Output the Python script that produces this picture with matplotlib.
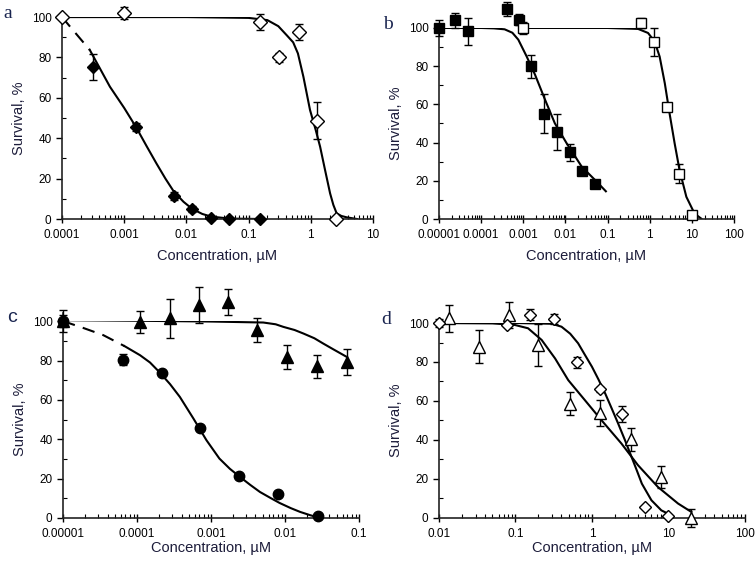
import matplotlib
matplotlib.use("Agg")
import matplotlib.pyplot as plt
import numpy as np
from matplotlib.ticker import FixedLocator, NullFormatter

plt.rcParams["font.family"] = ["Liberation Sans", "DejaVu Sans"]

# ---- panel a ----
a_open_x = [0.0001, 0.001, 0.15, 0.31, 0.65, 1.27, 2.54]
a_open_y = [100, 102, 97.5, 80, 92.6, 48.7, 0]
a_open_err = [0, 3, 4, 2, 4, 9, 0]
a_fill_x = [0.000315, 0.00155, 0.0063, 0.0124, 0.0248, 0.049, 0.155]
a_fill_y = [75.4, 45.5, 11.4, 5, 0.5, 0, 0]
a_fill_err = [6.5, 2, 2, 1.5, 1, 1, 1]
a_open_fit_x = [0.0001, 0.01, 0.1, 0.2, 0.3, 0.41, 0.52, 0.62, 0.76, 0.97, 1.2, 1.41, 1.7, 2.04, 2.3, 2.6, 3.1, 3.8, 5.5]
a_open_fit_y = [100, 100, 99.6, 98.5, 95.5, 91, 87.5, 82, 70.4, 54, 44, 35.8, 24, 12.7, 7, 2.8, 1.5, 0.8, 0]
a_dash_x = [0.0001, 0.00028]
a_dash_y = [100, 83.7]
a_fill_fit_x = [0.00028, 0.0004, 0.00059, 0.001, 0.00155, 0.0023, 0.0033, 0.0046, 0.0063, 0.009, 0.0124, 0.018, 0.025, 0.049, 0.155]
a_fill_fit_y = [83.7, 75, 65.5, 55, 45.5, 36, 27.5, 20, 13.5, 8.5, 5, 2.5, 1.2, 0.2, 0]

# ---- panel b ----
b_fill_x = [1e-5, 2.4e-5, 5e-5, 0.0004, 0.0008, 0.0015, 0.0031, 0.0062, 0.0129, 0.025, 0.051]
b_fill_y = [100, 104, 98.2, 110, 104.4, 79.9, 55.2, 45.7, 34.9, 25, 18.2]
b_fill_err = [4, 4, 7, 3.5, 3, 6, 10, 9.5, 4.5, 0, 0]
b_open_x = [0.001, 0.62, 1.25, 2.5, 5.0, 10]
b_open_y = [100, 102.6, 92.6, 58.8, 23.6, 2.3]
b_open_err = [3, 2.5, 7.5, 0, 5, 0]
b_fill_fit_x = [1e-5, 0.0001, 0.0002, 0.00036, 0.00055, 0.00076, 0.0012, 0.0019, 0.0033, 0.0056, 0.0107, 0.0245, 0.051, 0.091]
b_fill_fit_y = [100, 100, 99.8, 99.3, 97.5, 93.9, 85.1, 75.5, 62.3, 50.1, 39.6, 27.3, 20.3, 14.5]
b_open_fit_x = [0.001, 0.1, 0.53, 0.91, 1.3, 1.72, 2.28, 2.97, 3.9, 5.1, 7.4, 11.6, 16.7]
b_open_fit_y = [100, 100, 99.5, 97.4, 93, 85, 71, 55, 39.6, 25.6, 11.6, 2.8, 0.2]

# ---- panel c ----
c_circ_x = [1e-5, 6.5e-5, 0.00022, 0.00072, 0.0024, 0.0080, 0.028]
c_circ_y = [100, 80.5, 73.7, 45.8, 21.2, 12.0, 0.8]
c_circ_err = [3, 3, 0, 0, 0, 0, 0]
c_tri_x = [1e-5, 0.00011, 0.00028, 0.00069, 0.0017, 0.0042, 0.0107, 0.027, 0.068]
c_tri_y = [100, 99.7, 101.4, 108.1, 109.8, 95.4, 81.9, 77, 79.3]
c_tri_err = [5.5, 5.5, 10, 9, 6.5, 6, 6, 6, 6.5]
c_tri_fit_x = [1e-5, 0.0001, 0.001, 0.0051, 0.0075, 0.0095, 0.0135, 0.0178, 0.025, 0.033, 0.045, 0.068]
c_tri_fit_y = [100.5, 100.2, 99.8, 99.3, 98.4, 97.1, 95.5, 93.7, 91.3, 88.6, 85.7, 81.9]
c_dash_x = [1e-5, 1.8e-5, 3.5e-5, 6.8e-5]
c_dash_y = [100, 96.8, 92.9, 87.3]
c_circ_fit_x = [6.8e-5, 0.00011, 0.00015, 0.0002, 0.00028, 0.00038, 0.00058, 0.00087, 0.0013, 0.0018, 0.0024, 0.0034, 0.0046, 0.0065, 0.0085, 0.012, 0.016, 0.022, 0.030]
c_circ_fit_y = [87.3, 82.7, 79, 74.2, 68, 61.5, 50.5, 39.5, 30.2, 25, 21.2, 16.8, 13.2, 10, 7.6, 5, 3.1, 1.4, 0]

# ---- panel d ----
d_dia_x = [0.01, 0.078, 0.157, 0.316, 0.63, 1.26, 2.51, 5.0, 10]
d_dia_y = [100, 99.1, 104.3, 102, 79.8, 65.9, 53.3, 5.8, 1]
d_dia_err = [2, 0, 3, 2.5, 3, 1.5, 4, 0, 0]
d_tri_x = [0.0134, 0.033, 0.082, 0.20, 0.52, 1.29, 3.2, 8.0, 20]
d_tri_y = [102.4, 87.8, 104.1, 88.7, 58.7, 53.9, 40.4, 21.1, 0]
d_tri_err = [7, 8.5, 6.5, 11, 6, 6.5, 6, 5.5, 4.5]
d_dia_fit_x = [0.01, 0.1, 0.3, 0.40, 0.52, 0.66, 0.8, 1.0, 1.22, 1.49, 1.8, 2.2, 2.7, 3.3, 3.9, 4.5, 6.0, 8.1, 10.9]
d_dia_fit_y = [100, 100, 99.6, 98.1, 94.5, 89.6, 84, 77.6, 71, 63.9, 56.5, 48.5, 40, 31.3, 24, 17.6, 9.1, 3.9, 1.4]
d_tri_fit_x = [0.01, 0.05, 0.098, 0.146, 0.22, 0.33, 0.49, 0.81, 1.33, 2.43, 4.0, 7.3, 13.4, 20]
d_tri_fit_y = [100, 99.8, 99, 97.3, 91.3, 81.8, 70.7, 60.4, 50.2, 38.2, 27.1, 15.9, 7.4, 3.1]

a_ticks = [1e-4, 1e-3, 1e-2, 1e-1, 1, 10]
a_labels = ["0.0001", "0.001", "0.01", "0.1", "1", "10"]
b_ticks = [1e-5, 1e-4, 1e-3, 1e-2, 1e-1, 1, 10, 100]
b_labels = ["0.00001", "0.0001", "0.001", "0.01", "0.1", "1", "10", "100"]
c_ticks = [1e-5, 1e-4, 1e-3, 1e-2, 1e-1]
c_labels = ["0.00001", "0.0001", "0.001", "0.01", "0.1"]
d_ticks = [0.01, 0.1, 1, 10, 100]
d_labels = ["0.01", "0.1", "1", "10", "100"]

label_color = "#1c1c3a"


def style_axis(ax, ticks, labels, letter, xlabelpad, letter_family="Liberation Serif"):
    ax.set_xscale("log")
    ax.set_xlim(ticks[0], ticks[-1])
    ax.set_ylim(0, 100)
    ax.spines["top"].set_visible(False)
    ax.spines["right"].set_visible(False)
    ax.xaxis.set_major_locator(FixedLocator(ticks))
    ax.set_xticklabels(labels)
    minors = [d * m for d in ticks[:-1] for m in range(2, 10)]
    ax.xaxis.set_minor_locator(FixedLocator(minors))
    ax.xaxis.set_minor_formatter(NullFormatter())
    ax.set_yticks([0, 20, 40, 60, 80, 100])
    ax.yaxis.set_minor_locator(FixedLocator([10, 30, 50, 70, 90]))
    ax.tick_params(axis="x", which="major", direction="inout", length=6, width=1, labelsize=8.5, pad=4)
    ax.tick_params(axis="x", which="minor", direction="in", length=3, width=0.8)
    ax.tick_params(axis="y", which="major", direction="out", length=4, width=1, labelsize=8.5)
    ax.tick_params(axis="y", which="minor", direction="in", length=3, width=0.8)
    for s in ("left", "bottom"):
        ax.spines[s].set_linewidth(1.2)
        ax.spines[s].set_color("#222222")
    ax.set_xlabel("Concentration, µM", fontsize=10.5, color=label_color, labelpad=xlabelpad)
    ax.set_ylabel("Survival, %", fontsize=10.5, color=label_color, labelpad=4)
    ax.text(-0.19, 1.02, letter, transform=ax.transAxes, fontsize=14,
            family=letter_family, color="#1a2550", va="center", ha="left")


def points(ax, x, y, err, marker, face, ms):
    ax.errorbar(x, y, yerr=err, fmt=marker, mfc=face, mec="black", ms=ms,
                ecolor="black", elinewidth=1, capsize=3, capthick=1, mew=1,
                clip_on=False, zorder=3)


fig = plt.figure(figsize=(7.55, 5.64), dpi=100)
ax_a = fig.add_axes([0.0821, 0.6117, 0.412, 0.358])
ax_b = fig.add_axes([0.5815, 0.6117, 0.3907, 0.3387])
ax_c = fig.add_axes([0.0834, 0.0816, 0.392, 0.349])
ax_d = fig.add_axes([0.5815, 0.0816, 0.405, 0.3457])

# a
ax_a.plot(a_open_fit_x, a_open_fit_y, color="black", lw=1.5, zorder=2)
ax_a.plot(a_dash_x, a_dash_y, color="black", lw=1.5, ls=(0, (6, 4)), zorder=2)
ax_a.plot(a_fill_fit_x, a_fill_fit_y, color="black", lw=1.5, zorder=2)
points(ax_a, a_fill_x, a_fill_y, a_fill_err, "D", "black", 6.5)
points(ax_a, a_open_x, a_open_y, a_open_err, "D", "white", 7)
style_axis(ax_a, a_ticks, a_labels, "a", 6)

# b
ax_b.plot(b_fill_fit_x, b_fill_fit_y, color="black", lw=1.5, zorder=2)
ax_b.plot(b_open_fit_x, b_open_fit_y, color="black", lw=1.5, zorder=2)
points(ax_b, b_fill_x, b_fill_y, b_fill_err, "s", "black", 7)
points(ax_b, b_open_x, b_open_y, b_open_err, "s", "white", 7)
style_axis(ax_b, b_ticks, b_labels, "b", 6)

# c
ax_c.plot(c_tri_fit_x, c_tri_fit_y, color="black", lw=1.5, zorder=2)
ax_c.plot(c_dash_x, c_dash_y, color="black", lw=1.5, ls=(0, (6, 4)), zorder=2)
ax_c.plot(c_circ_fit_x, c_circ_fit_y, color="black", lw=1.5, zorder=2)
points(ax_c, c_tri_x, c_tri_y, c_tri_err, "^", "black", 8)
points(ax_c, c_circ_x, c_circ_y, c_circ_err, "o", "black", 7.5)
style_axis(ax_c, c_ticks, c_labels, "c", 1, letter_family="Liberation Sans")
ax_c.spines["left"].set_bounds(0, 104)

# d
ax_d.plot(d_dia_fit_x, d_dia_fit_y, color="black", lw=1.5, zorder=2)
ax_d.plot(d_tri_fit_x, d_tri_fit_y, color="black", lw=1.5, zorder=2)
points(ax_d, d_tri_x, d_tri_y, d_tri_err, "^", "white", 8.5)
points(ax_d, d_dia_x, d_dia_y, d_dia_err, "D", "white", 6.5)
style_axis(ax_d, d_ticks, d_labels, "d", 1)

fig.savefig("out.png", dpi=100)
